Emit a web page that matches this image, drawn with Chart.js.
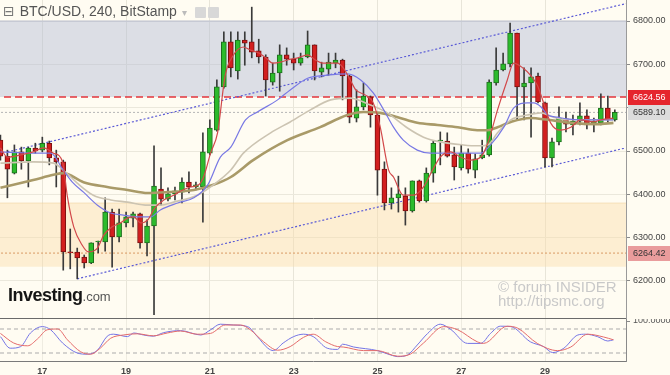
<!DOCTYPE html>
<html>
<head>
<meta charset="utf-8">
<title>BTC/USD, 240, BitStamp</title>
<script src="https://cdn.jsdelivr.net/npm/chart.js@4/dist/chart.umd.min.js"></script>
<style>
  body { margin: 0; width: 670px; height: 375px; overflow: hidden; position: relative;
         background: #fffcf2; font-family: "Liberation Sans", Arial, sans-serif; }
  canvas { position: absolute; left: 0; }
  #priceChart { top: 0; }
  #stochChart { top: 319px; }
  .title { position: absolute; left: 3px; top: 3px; font-size: 14px; color: #555; white-space: nowrap; }
  .title .box { font-family: "DejaVu Sans", sans-serif; color: #777; margin-right: 5px; }
  .title .caret { color: #bbb; font-size: 10px; margin-left: 5px; }
  .icon { position: absolute; top: 7px; width: 11px; height: 11px; background: #d8d8d8; border-radius: 1px; }
  .logo { position: absolute; left: 8px; top: 285px; color: #151515; white-space: nowrap; }
  .logo b { font-size: 18px; letter-spacing: -0.5px; }
  .logo span { font-size: 13px; color: #555; }
  .mark { position: absolute; left: 498px; top: 280px; font-size: 15px; line-height: 13.5px; color: #c9c9c9; white-space: nowrap; }
</style>
</head>
<body>
<canvas id="priceChart" width="670" height="319"></canvas>
<canvas id="stochChart" width="670" height="56"></canvas>
<div class="title"><span class="box">⊟</span>BTC/USD, 240, BitStamp<span class="caret">▾</span></div>
<div class="icon" style="left:195px"></div>
<div class="icon" style="left:208px"></div>
<div class="logo"><b>Investing</b><span>.com</span></div>
<div class="mark">© forum INSIDER<br>http://tipsmc.org</div>
<script>
// x is the candle index (4h candles, 6 per day, index 0 = day 16 00:00)
const dayLabels = ['17', '19', '21', '23', '25', '27', '29'];
const dayTicks = [6, 18, 30, 42, 54, 66, 78];
const priceTicks = [6200, 6300, 6400, 6500, 6600, 6700, 6800];

const opens = [6525, 6488, 6449, 6498, 6477, 6507, 6502, 6518, 6484, 6475,
  6267, 6267, 6255, 6242, 6290, 6290, 6359, 6302, 6334, 6345,
  6355, 6288, 6327, 6412, 6389, 6401, 6405, 6428, 6417, 6417,
  6495, 6548, 6648, 6752, 6685, 6756, 6752, 6731, 6717, 6659,
  6680, 6722, 6712, 6703, 6717, 6745, 6682, 6689, 6703, 6710,
  6673, 6576, 6602, 6625, 6583, 6458, 6380, 6392, 6396, 6362,
  6431, 6385, 6449, 6523, 6523, 6491, 6461, 6495, 6456, 6484,
  6491, 6657, 6687, 6701, 6772, 6648, 6657, 6673, 6611, 6484,
  6521, 6574, 6560, 6569, 6581, 6562, 6565, 6599, 6572];
const highs = [6537, 6502, 6514, 6509, 6509, 6518, 6532, 6523, 6502, 6479,
  6320, 6276, 6260, 6288, 6292, 6392, 6366, 6366, 6359, 6359,
  6357, 6341, 6512, 6461, 6415, 6417, 6438, 6452, 6428, 6542,
  6572, 6664, 6775, 6775, 6775, 6775, 6832, 6758, 6722, 6703,
  6745, 6738, 6726, 6726, 6777, 6745, 6705, 6726, 6726, 6712,
  6675, 6641, 6657, 6627, 6588, 6475, 6415, 6442, 6415, 6431,
  6433, 6461, 6523, 6544, 6542, 6509, 6514, 6505, 6493, 6525,
  6664, 6738, 6726, 6795, 6772, 6692, 6692, 6680, 6613, 6530,
  6602, 6590, 6583, 6611, 6595, 6576, 6632, 6627, 6595];
const lows = [6479, 6392, 6447, 6458, 6417, 6495, 6498, 6468, 6417, 6225,
  6228, 6205, 6230, 6240, 6265, 6269, 6232, 6290, 6325, 6325,
  6276, 6258, 6122, 6375, 6385, 6387, 6380, 6403, 6410, 6336,
  6491, 6546, 6645, 6671, 6666, 6698, 6715, 6703, 6627, 6652,
  6638, 6698, 6687, 6698, 6715, 6664, 6671, 6675, 6692, 6618,
  6565, 6567, 6595, 6555, 6398, 6364, 6366, 6359, 6329, 6359,
  6382, 6382, 6428, 6468, 6486, 6433, 6456, 6449, 6438, 6482,
  6488, 6652, 6685, 6694, 6572, 6572, 6532, 6611, 6463, 6463,
  6514, 6544, 6537, 6560, 6551, 6544, 6560, 6567, 6569];
const closes = [6488, 6458, 6498, 6477, 6507, 6500, 6518, 6484, 6475, 6267,
  6265, 6253, 6242, 6288, 6291, 6359, 6302, 6334, 6348, 6355,
  6288, 6327, 6419, 6389, 6401, 6408, 6428, 6417, 6422, 6498,
  6553, 6648, 6752, 6692, 6756, 6749, 6728, 6717, 6664, 6680,
  6722, 6712, 6703, 6715, 6745, 6685, 6692, 6705, 6710, 6673,
  6578, 6602, 6627, 6583, 6456, 6380, 6392, 6401, 6362, 6431,
  6385, 6449, 6518, 6525, 6488, 6463, 6495, 6458, 6482, 6491,
  6659, 6687, 6701, 6772, 6648, 6657, 6671, 6613, 6484, 6521,
  6576, 6562, 6569, 6581, 6560, 6569, 6599, 6572, 6589.10];

// moving averages: [candle index, price]
const fastMa = [[0, 6507], [1, 6486], [2.9, 6491], [4.7, 6498], [6.2, 6507], [7.6, 6495], [8.9, 6475],
  [9.6, 6394], [10.5, 6325], [11.7, 6283], [12.6, 6267], [13.9, 6276], [14.8, 6306], [16, 6325],
  [17.2, 6334], [18.2, 6345], [19.1, 6348], [20.1, 6334], [21.1, 6341], [22.1, 6368], [23.4, 6387],
  [24.8, 6398], [26.1, 6410], [27.2, 6417], [28.4, 6422], [29.1, 6440], [30.1, 6495], [31.1, 6542],
  [32.2, 6675], [33.2, 6717], [34.8, 6740], [35.8, 6733], [37, 6726], [38, 6715], [39, 6703],
  [40.1, 6705], [41.1, 6710], [42.6, 6715], [44, 6722], [45.1, 6710], [46.1, 6703], [48.3, 6703],
  [49.1, 6692], [50.1, 6664], [50.9, 6641], [52.3, 6629], [53.4, 6611], [54.4, 6555], [55.6, 6456],
  [56.3, 6440], [57.7, 6398], [59.2, 6398], [60.6, 6417], [61.9, 6456], [63, 6486], [64.5, 6498],
  [65.9, 6486], [67.3, 6479], [68.8, 6486], [69.8, 6518], [71.2, 6595], [72.6, 6664], [73.5, 6703],
  [74.8, 6692], [75.9, 6675], [76.9, 6652], [77.8, 6611], [78.8, 6565], [80.2, 6548], [81.7, 6555],
  [83.1, 6572], [85, 6567], [86, 6572], [87.8, 6576]];
const midMa = [[0, 6498], [4.7, 6495], [7.2, 6495], [9, 6456], [10.3, 6428], [11.9, 6405], [13.9, 6375],
  [15.8, 6357], [17.6, 6352], [19.6, 6348], [21.5, 6348], [22.9, 6364], [25.4, 6380], [27.7, 6392],
  [29.7, 6422], [31.5, 6486], [33, 6509], [35.1, 6572], [36.8, 6590], [39.7, 6618], [41.5, 6641],
  [44, 6668], [46.8, 6675], [49.7, 6678], [51.6, 6664], [53.4, 6634], [54.9, 6595], [56.3, 6555],
  [57.7, 6525], [59.7, 6502], [61.6, 6495], [64, 6495], [66.3, 6495], [68.8, 6495], [70.2, 6514],
  [72.1, 6555], [73.5, 6599], [75.5, 6611], [76.4, 6611], [77.4, 6602], [78.4, 6583], [79.8, 6578],
  [81.2, 6574], [83.1, 6572], [85, 6572], [87.8, 6572]];
const slowMa = [[0, 6472], [4.7, 6475], [7.6, 6472], [9, 6456], [11, 6426], [13.3, 6398], [15.8, 6387],
  [18.2, 6382], [21.1, 6375], [22.9, 6375], [24.8, 6382], [28.2, 6398], [30.5, 6422], [33, 6456],
  [34.8, 6495], [38.7, 6542], [41.5, 6567], [44.4, 6595], [47.3, 6618], [50.1, 6622], [53, 6606],
  [55.4, 6588], [58.3, 6553], [60.6, 6532], [63, 6521], [66.3, 6514], [68.3, 6512], [69.8, 6514],
  [71.2, 6542], [73.1, 6572], [75.5, 6583], [77.4, 6588], [79.2, 6578], [81.2, 6572], [84.1, 6572],
  [87.8, 6572]];
const longMa = [[0, 6415], [4.7, 6433], [7.6, 6445], [9, 6449], [11.9, 6428], [15.3, 6417], [18.2, 6410],
  [21.1, 6403], [23.9, 6405], [27.7, 6410], [30.5, 6422], [33, 6440], [36.2, 6479], [41.1, 6525],
  [45.8, 6555], [49.7, 6583], [52, 6590], [54.4, 6588], [56.9, 6578], [59.7, 6565], [62.6, 6560],
  [65.5, 6555], [68.3, 6548], [69.8, 6548], [71.2, 6555], [73.1, 6567], [75.9, 6576], [78.4, 6572],
  [81.7, 6565], [85.5, 6562], [87.8, 6565]];

const upperTrend = [[1.0, 6498], [89.8, 6841]];
const lowerTrend = [[11.0, 6205], [89.5, 6507]];
const upperZone = [6624.56, 6800];
const lowerZone = [6233, 6380];
const resistance = 6624.56;
const lastClose = 6589.10;
const support = 6264.42;
const tagValues = [resistance, lastClose, support];

// stochastic oscillator: [candle index, value]
const stochK = [[0, 61], [1.4, 32], [2.9, 36], [4.3, 70], [6, 86], [7.2, 78], [8.9, 45], [11, 20],
  [12.5, 17], [13.9, 27], [15.3, 62], [16.2, 67], [18.2, 61], [19.1, 70], [20.5, 65], [21.9, 62],
  [23.4, 71], [25.8, 76], [28.7, 65], [30.1, 78], [31.5, 92], [33.4, 90], [35.4, 86], [36.8, 61],
  [38.3, 32], [39.1, 26], [40.5, 45], [42, 61], [43.4, 67], [44.8, 61], [46.8, 32], [48.3, 29],
  [49, 42], [50.6, 35], [54, 26], [55.9, 15], [56.9, 11], [58.3, 15], [59.7, 40], [61.2, 69],
  [63, 92], [64.5, 79], [66.9, 44], [68.8, 44], [70.2, 69], [71.6, 87], [73.1, 86], [75.9, 48],
  [77.8, 36], [79.1, 21], [80.7, 32], [82.7, 65], [83.8, 67], [85.5, 61], [87, 50], [87.8, 53]];
const stochD = [[0, 69], [1.9, 45], [3.9, 38], [5.3, 55], [6.7, 78], [8.2, 80], [9.6, 53], [11.5, 23],
  [12.9, 17], [14.3, 32], [15.8, 57], [17.6, 65], [19.6, 68], [21.9, 63], [23.9, 70], [25.8, 75],
  [28.2, 67], [30.1, 69], [32.2, 90], [34.4, 90], [35.8, 78], [37.7, 48], [39.7, 27], [41.5, 36],
  [43.4, 59], [44.8, 67], [46.6, 48], [48.3, 36], [49.1, 35], [52, 26], [54, 26], [56.9, 12],
  [58.7, 17], [60.6, 45], [63.5, 86], [65.5, 78], [68.3, 48], [69.2, 44], [72.6, 87], [74.1, 82],
  [76.9, 44], [79.8, 26], [81.7, 35], [84.1, 67], [86.4, 60], [87.8, 53]];
const stochLevels = [80, 20];

const xMin = -0.06, xMax = 89.6;
const yMin = 6114.6, yMax = 6848.5;

Chart.defaults.font.family = '"Liberation Sans", Arial, sans-serif';
Chart.defaults.font.size = 9;
Chart.defaults.color = '#444';

const pts = arr => arr.map(([x, y]) => ({ x, y }));
const flat = v => [{ x: xMin - 1, y: v }, { x: xMax + 1, y: v }];
const line = (data, color, width, extra) => Object.assign({
  type: 'line', data, borderColor: color, borderWidth: width, pointRadius: 0,
  fill: false, cubicInterpolationMode: 'monotone'
}, extra || {});

const idx = opens.map((_, i) => i);
const isUp = i => closes[i] >= opens[i];

const fixWidth = w => scale => { scale.width = w; scale.paddingTop = 0; scale.paddingBottom = 0; };
const fixHeight = h => scale => { scale.height = h; scale.paddingLeft = 0; scale.paddingRight = 0; };

const tagStyles = [
  { bg: '#e5262d', fg: '#ffffff' },
  { bg: '#dcdcdc', fg: '#333333' },
  { bg: '#e99c9c', fg: '#333333' }
];
const priceTagPlugin = {
  id: 'priceTags',
  afterDraw(chart) {
    const { ctx, chartArea, scales } = chart;
    ctx.save();
    ctx.font = '9px "Liberation Sans", Arial, sans-serif';
    ctx.textBaseline = 'middle';
    tagValues.forEach((v, i) => {
      const py = Math.round(scales.y.getPixelForValue(v));
      ctx.fillStyle = tagStyles[i].bg;
      ctx.fillRect(chartArea.right + 2, py - 7, 44, 15);
      ctx.fillStyle = tagStyles[i].fg;
      ctx.fillText(v.toFixed(2), chartArea.right + 7, py + 1);
    });
    ctx.restore();
  }
};

new Chart(document.getElementById('priceChart').getContext('2d'), {
  type: 'bar',
  data: {
    datasets: [
      line(pts(fastMa), '#d2484a', 1.2, { order: 0 }),
      line(pts(midMa), '#7878e4', 1.2, { order: 1 }),
      line(pts(slowMa), '#ccc4b2', 1.6, { order: 1 }),
      line(pts(longMa), '#a99a68', 2.6, { order: 1 }),
      {
        type: 'bar', order: 3, grouped: false, clip: 0,
        data: idx.map(i => ({ x: i, y: [opens[i], closes[i]] })),
        backgroundColor: idx.map(i => isUp(i) ? '#2cbb2c' : '#d21f1f'),
        borderColor: idx.map(i => isUp(i) ? '#1c6f1c' : '#7a1010'),
        borderWidth: 1, borderSkipped: false, barThickness: 5, minBarLength: 1
      },
      {
        type: 'bar', order: 4, grouped: false, clip: 0,
        data: idx.map(i => ({ x: i, y: [lows[i], highs[i]] })),
        backgroundColor: '#3a3a3a', barThickness: 1
      },
      line(pts(upperTrend), '#5a5ad6', 1.2, { borderDash: [2, 2], order: 6 }),
      line(pts(lowerTrend), '#5a5ad6', 1.2, { borderDash: [2, 2], order: 6 }),
      line(flat(resistance), '#e3343b', 1.5, { borderDash: [7, 4], order: 7 }),
      line(flat(lastClose), '#b4b4b4', 1, { borderDash: [2, 2], order: 7 }),
      line(flat(support), '#d99a62', 1, { borderDash: [2, 2], order: 7 }),
      line(flat(upperZone[1]), '#bcc0cf', 1, {
        order: 9, fill: { value: upperZone[0] }, backgroundColor: 'rgba(178,188,214,0.46)'
      }),
      line(flat(lowerZone[1]), 'rgba(235,200,140,0.45)', 1, {
        order: 9, fill: { value: lowerZone[0] }, backgroundColor: 'rgba(250,220,168,0.42)'
      })
    ]
  },
  options: {
    responsive: false,
    animation: false,
    devicePixelRatio: 1,
    layout: { padding: { top: 0, left: 0, right: 0, bottom: 1 } },
    plugins: { legend: { display: false }, tooltip: { enabled: false } },
    scales: {
      x: {
        type: 'linear', min: xMin, max: xMax, offset: false,
        afterBuildTicks: s => { s.ticks = dayTicks.map(v => ({ value: v })); },
        afterFit: fixHeight(0),
        ticks: { display: false },
        grid: { color: '#e8e5d9', offset: false, drawTicks: false },
        border: { display: true, color: '#6a6a6a' }
      },
      y: {
        position: 'right', min: yMin, max: yMax,
        afterBuildTicks: s => { s.ticks = priceTicks.map(v => ({ value: v })); },
        afterFit: fixWidth(44),
        ticks: { padding: 3, color: '#444', callback: v => v.toFixed(2) },
        grid: { color: '#ebe8dc', tickColor: '#8a8a8a', tickLength: 4 },
        border: { color: '#9a9a9a' }
      }
    }
  },
  plugins: [priceTagPlugin]
});

new Chart(document.getElementById('stochChart').getContext('2d'), {
  type: 'line',
  data: {
    datasets: [
      line(pts(stochK), '#7474e6', 1, { order: 1 }),
      line(pts(stochD), '#e46a6a', 1, { order: 0 }),
      line(flat(stochLevels[0]), '#ababab', 1, { borderDash: [4, 3], order: 2 }),
      line(flat(stochLevels[1]), '#ababab', 1, { borderDash: [4, 3], order: 2 })
    ]
  },
  options: {
    responsive: false,
    animation: false,
    devicePixelRatio: 1,
    layout: { padding: 0 },
    plugins: { legend: { display: false }, tooltip: { enabled: false } },
    scales: {
      x: {
        type: 'linear', min: xMin, max: xMax,
        afterBuildTicks: s => { s.ticks = dayTicks.map(v => ({ value: v })); },
        afterFit: fixHeight(14),
        ticks: {
          padding: 5, color: '#444', maxRotation: 0, autoSkip: false,
          font: { size: 9, weight: 'bold' },
          callback: v => dayLabels[dayTicks.indexOf(v)]
        },
        grid: { color: '#efece1', drawTicks: false },
        border: { color: '#7a7a7a' }
      },
      y: {
        position: 'right', min: 0, max: 105,
        afterBuildTicks: s => { s.ticks = [{ value: 100 }]; },
        afterFit: fixWidth(44),
        ticks: { padding: 3, color: '#555', callback: v => v.toFixed(4) },
        grid: { drawOnChartArea: false, tickColor: '#8a8a8a', tickLength: 4 },
        border: { color: '#8a8a8a' }
      }
    }
  }
});
</script>
</body>
</html>
